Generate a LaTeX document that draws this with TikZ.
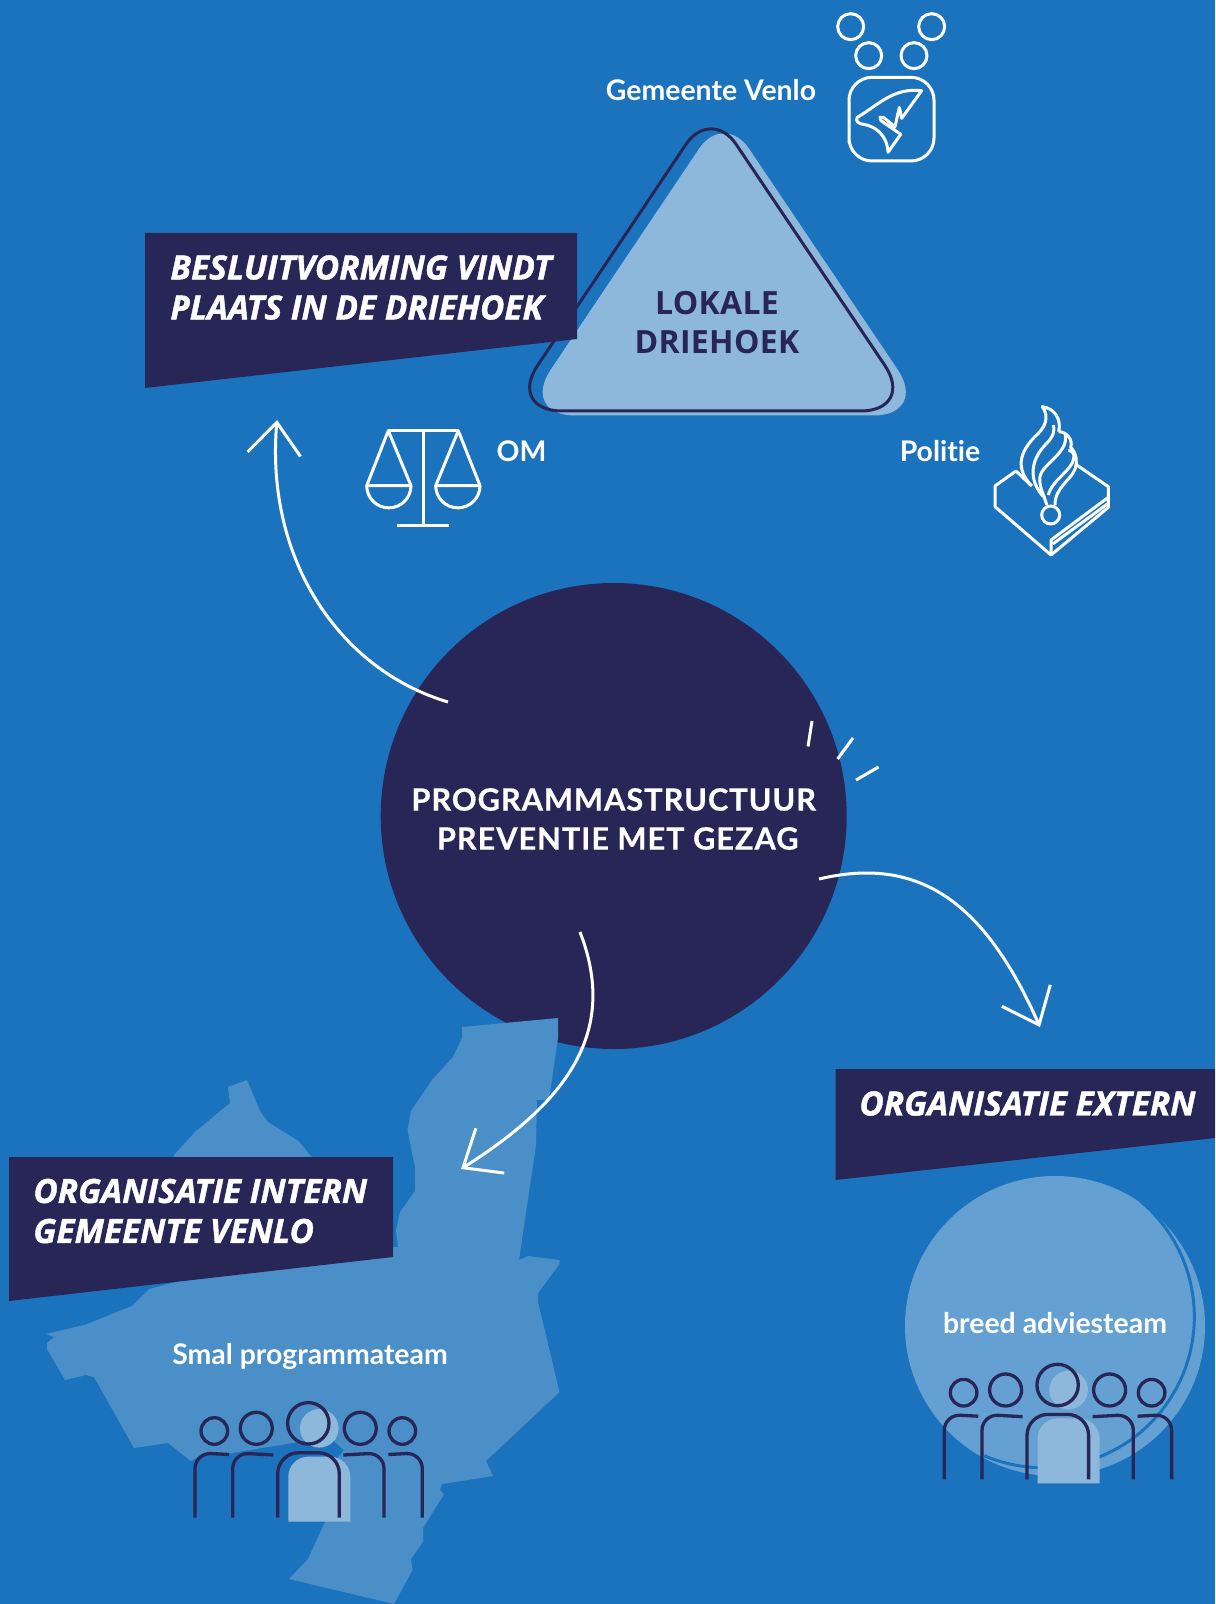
\documentclass[tikz,border=0pt]{standalone}
\usepackage{fontspec}
\usetikzlibrary{arrows.meta}
\setmainfont{Lato}[Ligatures=NoCommon]
\newfontfamily\kopfont{Open Sans}
\newfontfamily\banierfont{Open Sans}[BoldItalicFeatures={FakeBold=1.2}]
\newfontfamily\middenfont{Lato}[Ligatures=NoCommon,BoldFeatures={FakeBold=0.5,LetterSpace=3}]
\newlength{\du}
\setlength{\du}{0.5pt}
\definecolor{achtergrond}{HTML}{1C73BD}
\definecolor{donker}{HTML}{272657}
\definecolor{licht}{HTML}{8DB7DB}
\definecolor{kaart}{HTML}{4A8FC8}
\definecolor{schijf}{HTML}{64A1D2}
\tikzset{
  pijl/.style={draw=white,line width=3\du,-{Straight Barb[length=16pt,width=26.5pt,line width=1.5pt]}},
  icoon/.style={draw=white,line width=3\du,line join=round},
  poppetje/.style={draw=donker,line width=3.3\du},
  vlak/.style={fill=donker,draw=none},
  banier/.style={anchor=west,align=left,text=white,inner sep=0pt,font=\banierfont\fontsize{16.7}{20}\selectfont\bfseries\itshape},
  label/.style={text=white,inner sep=0pt,font=\fontsize{14.2}{16}\selectfont\bfseries},
  kop/.style={align=center,inner sep=0pt,font=\kopfont\fontsize{16}{19.5}\selectfont\bfseries\addfontfeature{LetterSpace=1}},
}
% one group of five people, origin at its top left
\newcommand{\teamicon}[3]{
\begin{scope}[shift={(#1\du,#2\du)}]
\node[circle,fill=licht,minimum size=38.6\du,inner sep=0pt] (#3hoofd) at (139.3\du,38.3\du) {};
\fill[licht] (108.3\du,131.7\du)[rounded corners=20\du]--(108.3\du,66.7\du)--(170.3\du,66.7\du)[sharp corners]--(170.3\du,131.7\du)--cycle;
\draw[poppetje] (34.3\du,41\du) circle (13.3\du);
\draw[poppetje] (76.3\du,38.3\du) circle (16\du);
\draw[poppetje] (128.3\du,33.3\du) circle (20.7\du);
\draw[poppetje] (180.3\du,38.3\du) circle (16\du);
\draw[poppetje] (222.3\du,41\du) circle (13.3\du);
\draw[poppetje,rounded corners=16\du] (15\du,127.7\du)--(15\du,62.7\du)--(49\du,64.5\du);
\draw[poppetje,rounded corners=16\du] (52.7\du,127.7\du)--(52.7\du,62.7\du)--(93.3\du,65\du);
\draw[poppetje,rounded corners=21\du] (97.7\du,127.7\du)--(97.7\du,62.7\du)--(159.3\du,62.7\du)--(159.3\du,127.7\du);
\draw[poppetje,rounded corners=16\du] (163.3\du,65\du)--(204\du,62.7\du)--(204\du,127.7\du);
\draw[poppetje,rounded corners=16\du] (208.3\du,64.5\du)--(242.3\du,62.7\du)--(242.3\du,127.7\du);
\end{scope}
}

\begin{document}
\begin{tikzpicture}
\pgftransformxscale{1.000000}
\pgftransformyscale{-1.000000}
\useasboundingbox (0\du,0\du) rectangle (1215\du,1604\du);
\fill[achtergrond] (0\du,0\du) rectangle (1215\du,1604\du);
% circle in the middle
\node[circle,fill=donker,minimum size=466\du,inner sep=0pt] (programma) at (613.7\du,816\du) {};
\node[text=white,align=center,inner sep=0pt,
  font=\middenfont\fontsize{15.4}{19.5}\selectfont\bfseries] (programmatekst) at (613.7\du,819\du)
  {PROGRAMMASTRUCTUUR\\\hspace*{8\du}PREVENTIE MET GEZAG};
\draw[icoon] (812\du,721\du)--(808\du,746.5\du);
\draw[icoon] (853\du,738\du)--(837.6\du,759\du);
\draw[icoon] (878.5\du,767\du)--(856\du,780\du);
% triangle
\fill[licht] (713\du,415.5\du)[rounded corners=55\du]--(928.5\du,415.5\du)[rounded corners=45\du]--(724\du,111.5\du)[rounded corners=55\du]--(520\du,415.5\du)[sharp corners]--cycle;
\draw[donker,line width=3\du] (700\du,411\du)[rounded corners=55\du]--(915.5\du,411\du)[rounded corners=45\du]--(711\du,107\du)[rounded corners=55\du]--(507\du,411\du)[sharp corners]--cycle;
\node[kop,text=donker] (driehoek) at (717\du,323\du) {LOKALE\\DRIEHOEK};
% map of the municipality
\fill[kaart] (462\du,1027\du)--(558\du,1018\du)--(558\du,1038\du)--(549\du,1100\du)--(537\du,1100\du)--(536\du,1145\du)--(519\du,1260\du)--(528\du,1256\du)--(559.5\du,1260\du)--(559.5\du,1264\du)--(538\du,1293\du)--(538\du,1302\du)--(559.5\du,1392\du)--(486\du,1461\du)--(493\du,1476\du)--(442\du,1484\du)--(440\du,1490\du)--(444\du,1494\du)--(423\du,1528\du)--(423\du,1541.5\du)--(411\du,1559\du)--(412.5\du,1570\du)--(394\du,1604\du)--(289\du,1579\du)--(308\du,1559\du)--(325\du,1522\du)--(337\du,1459\du)--(344\du,1450\du)--(329\du,1437\du)--(287\du,1444\du)--(220\du,1455\du)--(208.5\du,1451.5\du)--(191\du,1461\du)--(168\du,1443\du)--(134\du,1448\du)--(94\du,1377\du)--(86\du,1375\du)--(65\du,1380\du)--(47\du,1349\du)--(47\du,1343\du)--(54\du,1337\du)--(46\du,1334\du)--(86\du,1324.5\du)--(132\du,1306\du)--(149\du,1289\du)--(180\du,1281\du)--(174\du,1155\du)--(195\du,1132\du)--(230\du,1103\du)--(228\du,1087\du)--(247\du,1080\du)--(260\du,1111\du)--(268\du,1122\du)--(298.5\du,1141\du)--(310\du,1155\du)--(383\du,1247\du)--(398\du,1247\du)--(396\du,1230\du)--(400\du,1212\du)--(415\du,1191\du)--(415\du,1168\du)--(407.5\du,1130\du)--(411\du,1111\du)--(432\du,1080\du)--(453\du,1057\du)--(462\du,1038\du)--cycle;
% disc on the right
\node[circle,fill=schijf,minimum size=300\du,inner sep=0pt] (schijf) at (1055\du,1326\du) {};
\draw[achtergrond,line width=3\du] (1043.3\du,1316.7\du) ++(-50:151\du) arc[start angle=-50,end angle=113,radius=151\du];
% banners
\fill[vlak] (145\du,233\du)--(577\du,233\du)--(577\du,339\du)--(145\du,388\du)--cycle;
\fill[vlak] (835.5\du,1069\du)--(1215\du,1069\du)--(1215\du,1138\du)--(835.5\du,1180\du)--cycle;
\fill[vlak] (9\du,1157\du)--(393\du,1157\du)--(393\du,1257\du)--(9\du,1301\du)--cycle;
\node[banier] (besluit) at (170\du,287.5\du) {BESLUITVORMING VINDT\\PLAATS IN DE DRIEHOEK};
\node[banier] (extern) at (859\du,1103.5\du) {ORGANISATIE EXTERN};
\node[banier] (intern) at (33\du,1211\du) {ORGANISATIE INTERN\\GEMEENTE VENLO};
% labels
\node[label] (venlo) at (711\du,90\du) {Gemeente Venlo};
\node[label] (om) at (521.5\du,451\du) {OM};
\node[label] (politie) at (940\du,451\du) {Politie};
\node[label] (smal) at (310\du,1356\du) {Smal programmateam};
\node[label] (breed) at (1055\du,1323\du) {breed adviesteam};
% arrows
\coordinate (besluitstart) at (448\du,702\du);
\coordinate (besluiteind) at (277\du,420\du);
\coordinate (externstart) at (819\du,879\du);
\coordinate (externeind) at (1040\du,1027\du);
\coordinate (internstart) at (580\du,932\du);
\coordinate (interneind) at (461\du,1169\du);
\draw[pijl] (besluitstart) .. controls (340\du,670\du) and (265\du,560\du) .. (besluiteind);
\draw[pijl] (externstart) .. controls (920\du,855\du) and (985\du,903\du) .. (externeind);
\draw[pijl] (internstart) .. controls (618\du,1030\du) and (570\du,1100\du) .. (interneind);
% scales
\draw[icoon] (388.3\du,430.7\du)--(458.3\du,430.7\du);
\draw[icoon] (423\du,430.7\du)--(423\du,525\du);
\draw[icoon] (396.7\du,525\du)--(449.3\du,525\du);
\draw[icoon] (411\du,485.7\du)--(388.3\du,430.7\du)--(366.7\du,485.7\du)--cycle;
\draw[icoon] (366.7\du,485.7\du) arc[start angle=180,end angle=0,radius=22.15\du];
\draw[icoon] (480\du,485.7\du)--(458.3\du,430.7\du)--(435.7\du,485.7\du)--cycle;
\draw[icoon] (435.7\du,485.7\du) arc[start angle=180,end angle=0,radius=22.15\du];
% logo of the municipality
\begin{scope}[shift={(800\du,0\du)},scale=0.33333]
\draw[icoon] (152\du,80\du) circle (39\du);
\draw[icoon] (395\du,80\du) circle (39\du);
\draw[icoon] (206\du,167\du) circle (39\du);
\draw[icoon] (342\du,167\du) circle (39\du);
\draw[icoon,rounded corners=23\du] (147\du,360\du)--(147\du,232\du)--(402\du,232\du)--(402\du,483\du)--(147\du,483\du)--cycle;
\draw[icoon] (365\du,272\du) .. controls (280\du,262\du) and (235\du,315\du) .. (172\du,352\du) .. controls (165\du,362\du) and (175\du,372\du) .. (190\du,373\du) .. controls (225\du,378\du) and (262\du,405\du) .. (264\du,457\du)--(302\du,403\du)--(243\du,362\du)--(240\du,352\du)--(250\du,352\du)--(285\du,380\du)--(298\du,322\du)--(305\du,355\du)--cycle;
\end{scope}
% logo of the police
\begin{scope}[shift={(960\du,390\du)},scale=0.33333]
\draw[icoon] (168\du,243\du)--(105\du,288\du)--(105\du,350\du)--(273\du,495\du)--(445\du,352\du)--(445\du,290\du)--(350\du,225\du);
\draw[icoon] (168\du,243\du)--(215\du,288\du);
\draw[icoon] (273\du,495\du)--(273\du,450\du)--(445\du,322\du);
\draw[icoon] (278\du,462\du)--(445\du,340\du);
\draw[icoon] (272\du,375\du) circle (27\du);
\draw[icoon] (215\du,288\du) .. controls (170\du,240\du) and (170\du,190\du) .. (235\du,130\du) .. controls (265\du,100\du) and (262\du,70\du) .. (247\du,50\du) .. controls (285\du,55\du) and (305\du,90\du) .. (296\du,125\du);
\draw[icoon] (250\du,320\du) .. controls (205\du,270\du) and (210\du,210\du) .. (260\du,160\du) .. controls (280\du,140\du) and (285\du,120\du) .. (280\du,105\du);
\draw[icoon] (296\du,125\du) .. controls (320\du,125\du) and (340\du,150\du) .. (332\du,172\du) .. controls (350\du,190\du) and (352\du,215\du) .. (346\du,235\du) .. controls (335\du,270\du) and (285\du,290\du) .. (285\du,345\du);
\draw[icoon] (260\du,345\du) .. controls (255\du,320\du) and (235\du,290\du) .. (240\du,260\du) .. controls (248\du,220\du) and (325\du,190\du) .. (316\du,135\du);
\draw[icoon] (265\du,315\du) .. controls (275\du,270\du) and (340\du,240\du) .. (342\du,200\du) .. controls (342\du,190\du) and (335\du,180\du) .. (325\du,182\du);
\end{scope}
% the two groups of people
\teamicon{180}{1390}{klein}
\teamicon{929.3}{1351.7}{groot}
\end{tikzpicture}
\end{document}
